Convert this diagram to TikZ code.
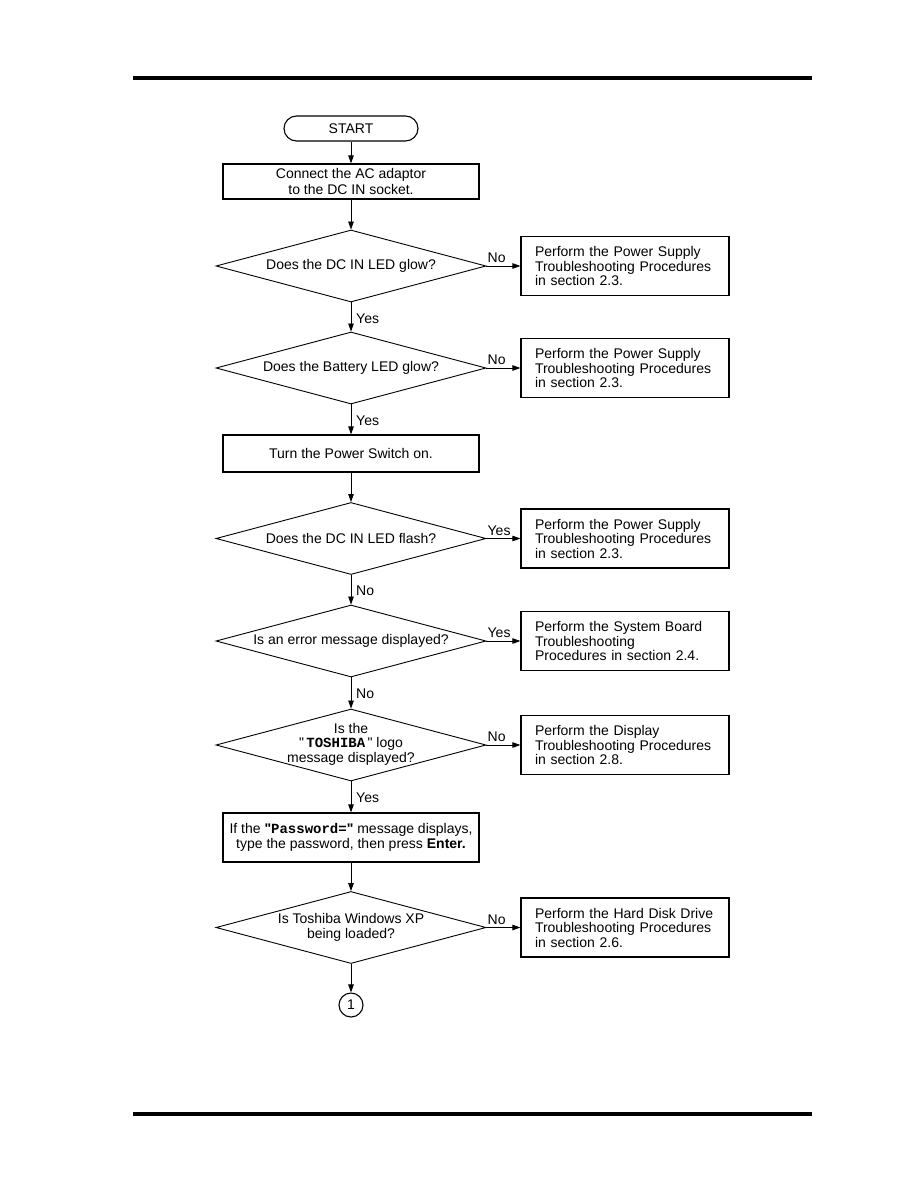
\documentclass[tikz,border=0pt]{standalone}
\usepackage{fontspec}
\setmainfont{Liberation Sans}
\newfontfamily\qfont{Liberation Sans}
\newfontfamily\courfont{Liberation Mono}
\newcommand\dq{{\qfont"}}
\usetikzlibrary{shapes.geometric,arrows.meta}
\begin{document}
\begin{tikzpicture}[x=1pt,y=-1pt,
  txt/.style={font=\fontsize{14}{14.5}\selectfont},
  startbox/.style={draw, line width=1.1pt, rounded corners=12.5pt, minimum width=134pt, minimum height=25pt, inner sep=0pt, txt},
  box/.style={draw, line width=1.2pt, minimum width=256pt, inner sep=0pt, align=center, txt},
  rbox/.style={draw, line width=1.2pt, minimum width=208pt, minimum height=59pt, text width=180pt, inner sep=0pt, align=left, txt},
  dia/.style={draw, diamond, line width=0.9pt, minimum width=270pt, minimum height=72pt, inner sep=0pt},
  dtext/.style={align=center, inner sep=0pt, txt},
  arr/.style={-{Triangle[length=8pt,width=5.5pt]}, line width=0.8pt},
  lblr/.style={anchor=base west, inner sep=0pt, txt},
  lbld/.style={anchor=base west, inner sep=0pt, txt},
  conn/.style={draw, circle, line width=1.1pt, minimum size=24pt, inner sep=0pt, txt}
]
\useasboundingbox (0,0) rectangle (918,1188);
% page rules
\fill (133,76) rectangle (812,80);
\fill (133,1112) rectangle (812,1115.5);

% main column
\node[startbox] (start) at (351,128.5) {START};
\node[box, minimum height=35pt, font=\fontsize{14}{16}\selectfont] (b1) at (351,181.5) {Connect the AC adaptor\\to the DC IN socket.};
\node[dia] (d1) at (351,266) {};
\node[dtext] (d1t) at (d1) {Does the DC IN LED glow?};
\node[dia] (d2) at (351,368) {};
\node[dtext] (d2t) at (d2) {Does the Battery LED glow?};
\node[box, minimum height=37pt] (b2) at (351,453.5) {Turn the Power Switch on.};
\node[dia] (d3) at (351,538.5) {};
\node[dtext] (d3t) at (d3) {Does the DC IN LED flash?};
\node[dia] (d4) at (351,641) {};
\node[dtext] (d4t) at (d4) {Is an error message displayed?};
\node[dia] (d5) at (351,745) {};
\node[dtext] (d5t) at ([yshift=1pt]d5.center) {Is the\\\dq\,{\courfont\bfseries TOSHIBA}\,\dq{} logo\\message displayed?};
\node[box, minimum height=49pt] (b3) at (351,837.5) {If the {\bfseries\dq}{\courfont\bfseries Password=}{\bfseries\dq} message displays,\\type the password, then press \textbf{Enter.}};
\node[dia] (d6) at (351,927.5) {};
\node[dtext] (d6t) at (d6) {Is Toshiba Windows XP\\being loaded?};
\node[conn] (c1) at (351,1005) {1};

% right boxes
\node[rbox] (r1) at (625,266) {Perform the Power Supply\\Troubleshooting Procedures\\in section 2.3.};
\node[rbox] (r2) at (625,368) {Perform the Power Supply\\Troubleshooting Procedures\\in section 2.3.};
\node[rbox] (r3) at (625,538.5) {Perform the Power Supply\\Troubleshooting Procedures\\in section 2.3.};
\node[rbox] (r4) at (625,641) {Perform the System Board\\Troubleshooting\\Procedures in section 2.4.};
\node[rbox] (r5) at (625,745) {Perform the Display\\Troubleshooting Procedures\\in section 2.8.};
\node[rbox] (r6) at (625,927.5) {Perform the Hard Disk Drive\\Troubleshooting Procedures\\in section 2.6.};

% vertical connectors
\draw[arr] (start) -- (b1);
\draw[arr] (b1) -- (d1.north);
\draw[arr] (d1.south) -- (d2.north);
\draw[arr] (d2.south) -- (b2);
\draw[arr] (b2) -- (d3.north);
\draw[arr] (d3.south) -- (d4.north);
\draw[arr] (d4.south) -- (d5.north);
\draw[arr] (d5.south) -- (b3);
\draw[arr] (b3) -- (d6.north);
\draw[arr] (d6.south) -- (c1);

% horizontal connectors
\draw[arr] (d1.east) -- (r1.west);
\draw[arr] (d2.east) -- (r2.west);
\draw[arr] (d3.east) -- (r3.west);
\draw[arr] (d4.east) -- (r4.west);
\draw[arr] (d5.east) -- (r5.west);
\draw[arr] (d6.east) -- (r6.west);

% labels
\node[lblr] (l1r) at ([xshift=1pt,yshift=3.5pt]d1.east) {No};
\node[lblr] (l2r) at ([xshift=1pt,yshift=3.5pt]d2.east) {No};
\node[lblr] (l3r) at ([xshift=1pt,yshift=3.5pt]d3.east) {Yes};
\node[lblr] (l4r) at ([xshift=1pt,yshift=3.5pt]d4.east) {Yes};
\node[lblr] (l5r) at ([xshift=1pt,yshift=3.5pt]d5.east) {No};
\node[lblr] (l6r) at ([xshift=1pt,yshift=3.5pt]d6.east) {No};
\node[lbld] (l1d) at ([xshift=5pt,yshift=-21pt]d1.south) {Yes};
\node[lbld] (l2d) at ([xshift=5pt,yshift=-21pt]d2.south) {Yes};
\node[lbld] (l3d) at ([xshift=5pt,yshift=-21pt]d3.south) {No};
\node[lbld] (l4d) at ([xshift=5pt,yshift=-21pt]d4.south) {No};
\node[lbld] (l5d) at ([xshift=5pt,yshift=-21pt]d5.south) {Yes};
\end{tikzpicture}
\end{document}
